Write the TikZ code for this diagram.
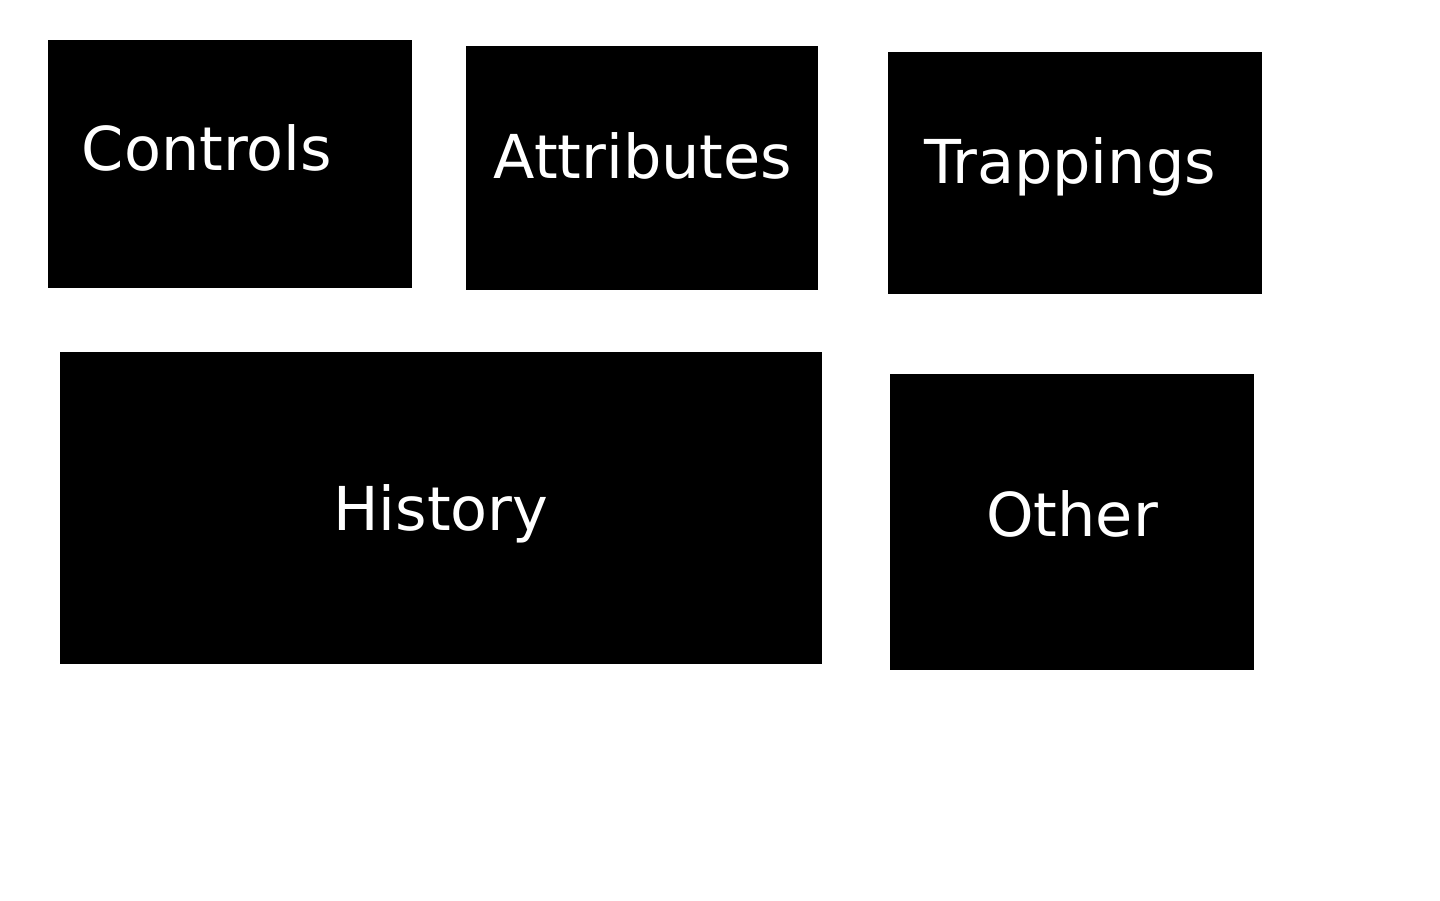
\documentclass[tikz,border=0pt]{standalone}
\usepackage{fontspec}
\setmainfont{DejaVu Sans}
\begin{document}
\begin{tikzpicture}[x=1pt,y=-1pt,
  blk/.style={fill=black,draw=none,inner sep=0pt,outer sep=0pt},
  lbl/.style={text=white,font=\fontsize{60.5}{72}\selectfont,inner sep=0pt,anchor=base}]
\useasboundingbox (0,0) rectangle (1440,900);
\fill[white] (0,0) rectangle (1440,900);
\path[blk] (48,40) rectangle (412,288) coordinate (controlsbox);
\path[blk] (466,46) rectangle (818,290) coordinate (attributesbox);
\path[blk] (888,52) rectangle (1262,294) coordinate (trappingsbox);
\path[blk] (60,352) rectangle (822,664) coordinate (historybox);
\path[blk] (890,374) rectangle (1254,670) coordinate (otherbox);
\node[lbl] (controls) at (207,170) {Controls};
\node[lbl] (attributes) at (643,178) {Attributes};
\node[lbl] (trappings) at (1070,183) {Trappings};
\node[lbl] (history) at (441,530) {History};
\node[lbl] (other) at (1072,536) {Other};
\end{tikzpicture}
\end{document}
